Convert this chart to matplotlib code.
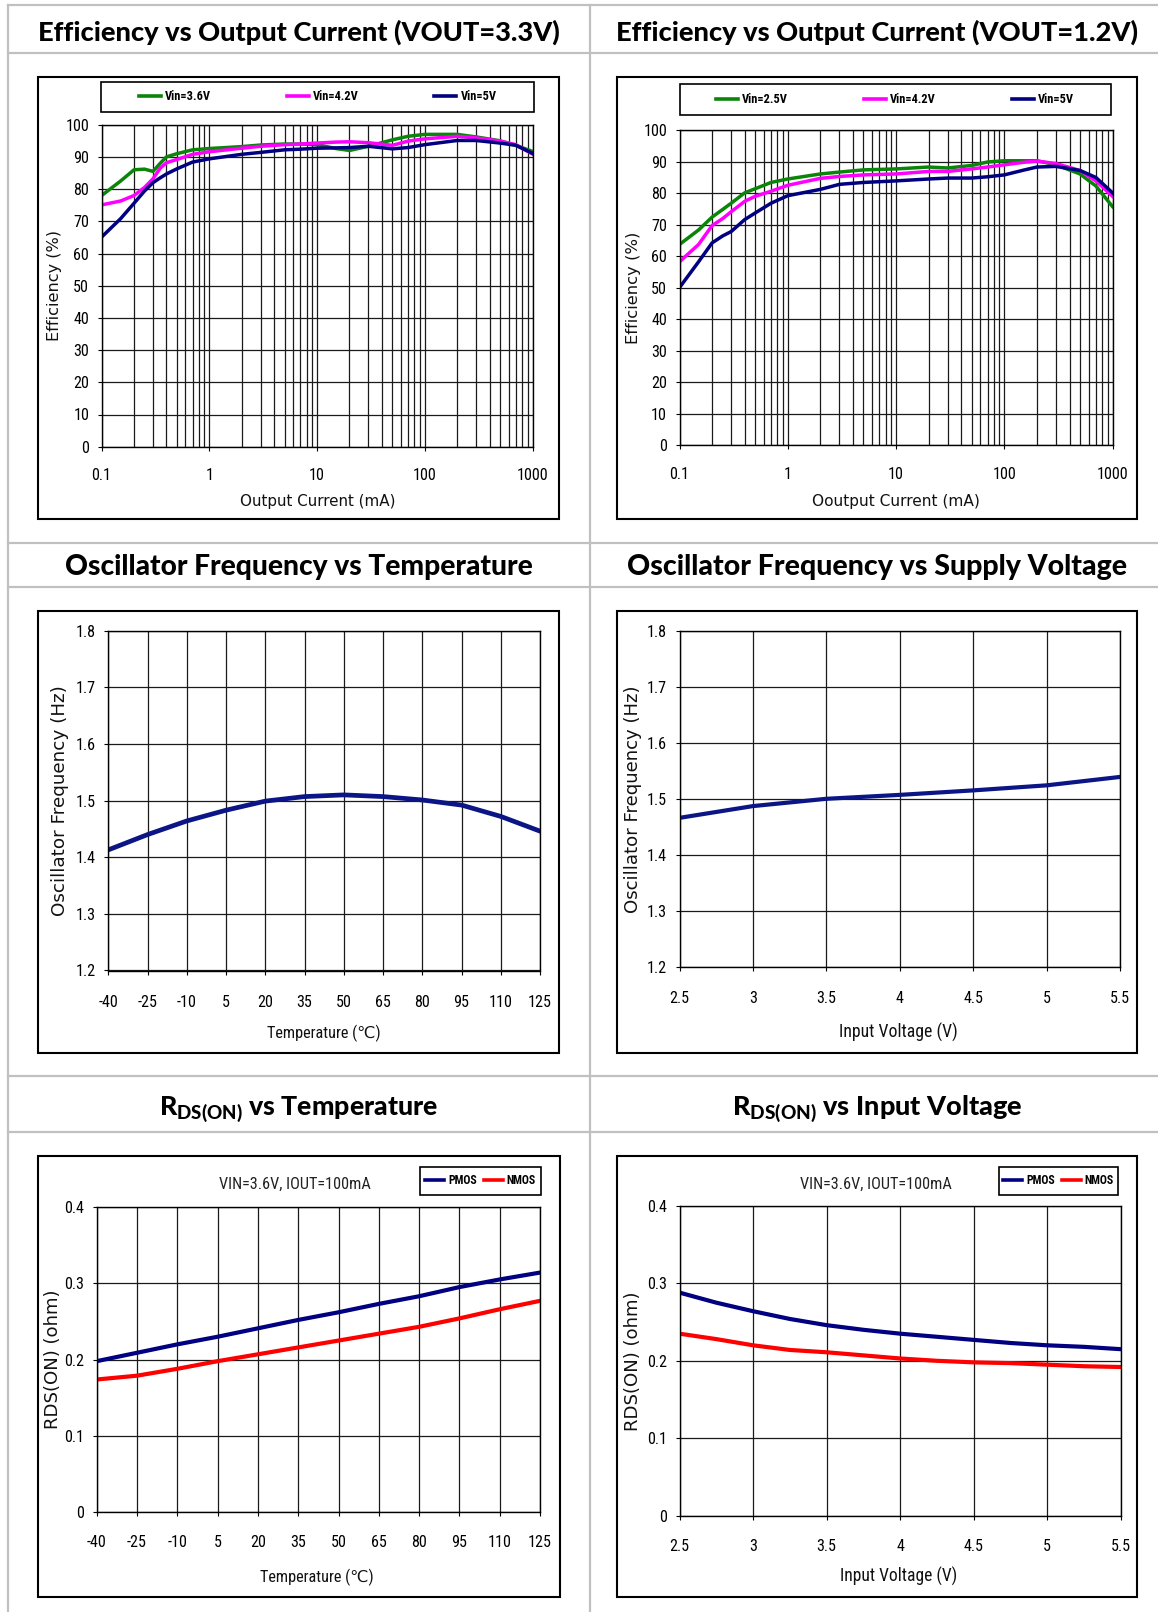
import matplotlib
matplotlib.use('Agg')
import matplotlib.pyplot as plt
from matplotlib import font_manager
from matplotlib.font_manager import FontProperties
from matplotlib.lines import Line2D
from matplotlib.patches import Rectangle
from matplotlib.ticker import LogLocator, NullFormatter

W, H = 1158, 1612
_fl = font_manager.fontManager.ttflist
_names = {f.name for f in _fl}


def _is_cond(f):
    st = f.stretch
    if isinstance(st, str):
        return 'condensed' in st or 'narrow' in st
    return st < 500


NARROW_FAMILY, NARROW_STRETCH = None, 'normal'
for nm in ['Liberation Sans Narrow', 'Roboto Condensed', 'DejaVu Sans Condensed', 'Open Sans Condensed',
           'Noto Sans Condensed', 'Arial Narrow']:
    if nm in _names:
        NARROW_FAMILY = nm
        break
if NARROW_FAMILY is None:
    for pref in ['DejaVu Sans', 'Noto Sans', 'Open Sans', 'Roboto', 'Liberation Sans']:
        if any(f.name == pref and _is_cond(f) for f in _fl):
            NARROW_FAMILY, NARROW_STRETCH = pref, 'condensed'
            break
if NARROW_FAMILY is None:
    NARROW_FAMILY, NARROW_STRETCH = ('Roboto' if 'Roboto' in _names else 'DejaVu Sans'), 'normal'


def nfp(size, weight='normal'):
    return FontProperties(family=[NARROW_FAMILY, 'DejaVu Sans'], stretch=NARROW_STRETCH, weight=weight, size=size)


TFONT = 'Lato' if 'Lato' in _names else 'DejaVu Sans'
LFONT = 'DejaVu Sans'
plt.rcParams['mathtext.fontset'] = 'custom'
plt.rcParams['mathtext.bf'] = TFONT + ':black'
plt.rcParams['mathtext.rm'] = TFONT

# ---------------- data ----------------
# Efficiency, VOUT = 3.3V
eff33_current = [0.1, 0.15, 0.2, 0.25, 0.3, 0.35, 0.4, 0.5, 0.7, 1, 2, 3, 5, 7, 10, 15, 20, 30, 50, 70,
                 100, 200, 300, 500, 700, 1000]
eff33_vin36 = [78.0, 82.5, 86.0, 86.2, 85.5, 88.0, 90.0, 91.0, 92.2, 92.6, 93.2, 93.7, 94.0, 94.0, 93.8, 92.6,
               92.0, 93.3, 95.3, 96.4, 97.0, 97.0, 96.2, 95.0, 93.6, 91.7]
eff33_vin42 = [75.1, 76.3, 78.0, 80.5, 83.2, 86.5, 88.2, 89.2, 90.8, 91.6, 92.7, 93.3, 93.8, 94.0, 94.3, 94.6,
               94.7, 94.4, 93.6, 94.9, 95.6, 96.4, 95.9, 94.9, 93.8, 90.9]
eff33_vin5 = [65.1, 70.8, 75.6, 79.4, 82.0, 83.5, 84.7, 86.3, 88.4, 89.4, 90.8, 91.4, 92.2, 92.4, 92.7, 92.8,
              92.9, 93.3, 92.5, 92.9, 93.8, 95.1, 95.1, 94.3, 93.6, 91.1]
eff33_labels = ['Vin=3.6V', 'Vin=4.2V', 'Vin=5V']

# Efficiency, VOUT = 1.2V
eff12_current = [0.1, 0.15, 0.2, 0.25, 0.3, 0.4, 0.5, 0.7, 1, 2, 3, 5, 10, 20, 30, 50, 70, 100, 150, 200,
                 300, 500, 700, 1000]
eff12_vin25 = [63.7, 68.3, 72.4, 74.8, 76.8, 80.1, 81.4, 83.4, 84.5, 86.1, 86.7, 87.4, 87.7, 88.3, 88.0, 88.8,
               89.9, 90.3, 90.3, 90.3, 89.0, 86.1, 82.3, 75.7]
eff12_vin42 = [58.2, 63.7, 69.7, 71.9, 74.1, 77.4, 79.0, 80.6, 82.5, 84.7, 85.3, 85.8, 86.1, 86.9, 86.9, 87.7,
               88.3, 89.0, 89.8, 90.2, 89.4, 87.2, 83.9, 79.0]
eff12_vin5 = [50.0, 58.2, 64.2, 66.4, 67.8, 71.6, 73.7, 76.8, 79.2, 81.2, 82.8, 83.4, 83.9, 84.5, 84.8, 84.8,
              85.2, 85.8, 87.3, 88.3, 88.5, 87.2, 85.0, 80.1]
eff12_labels = ['Vin=2.5V', 'Vin=4.2V', 'Vin=5V']

eff_yticks = [0, 10, 20, 30, 40, 50, 60, 70, 80, 90, 100]
eff_xticks = [0.1, 1, 10, 100, 1000]
eff_xticklabels = ['0.1', '1', '10', '100', '1000']

# Oscillator frequency
temp = [-40, -25, -10, 5, 20, 35, 50, 65, 80, 95, 110, 125]
osc_vs_temp = [1.413, 1.440, 1.464, 1.483, 1.499, 1.507, 1.510, 1.507, 1.501, 1.492, 1.472, 1.446]
vin = [2.5, 3.0, 3.5, 4.0, 4.5, 5.0, 5.5]
osc_vs_vin = [1.466, 1.487, 1.500, 1.507, 1.515, 1.524, 1.539]
osc_yticks = [1.2, 1.3, 1.4, 1.5, 1.6, 1.7, 1.8]
osc_yticklabels = ['1.2', '1.3', '1.4', '1.5', '1.6', '1.7', '1.8']
vin_ticklabels = ['2.5', '3', '3.5', '4', '4.5', '5', '5.5']

# RDS(ON)
rds_pmos_temp = [0.198, 0.209, 0.220, 0.230, 0.241, 0.252, 0.262, 0.273, 0.283, 0.295, 0.305, 0.314]
rds_nmos_temp = [0.174, 0.179, 0.188, 0.198, 0.207, 0.216, 0.225, 0.234, 0.243, 0.254, 0.266, 0.277]
vin_rds = [2.5, 2.75, 3.0, 3.25, 3.5, 3.75, 4.0, 4.25, 4.5, 4.75, 5.0, 5.25, 5.5]
rds_pmos_vin = [0.288, 0.275, 0.264, 0.254, 0.246, 0.240, 0.235, 0.231, 0.227, 0.223, 0.220, 0.218, 0.215]
rds_nmos_vin = [0.235, 0.228, 0.220, 0.214, 0.211, 0.207, 0.203, 0.200, 0.198, 0.197, 0.195, 0.193, 0.192]
rds_yticks = [0, 0.1, 0.2, 0.3, 0.4]
rds_yticklabels = ['0', '0.1', '0.2', '0.3', '0.4']
rds_labels = ['PMOS', 'NMOS']

titles = ['Efficiency vs Output Current (VOUT=3.3V)',
          'Efficiency vs Output Current (VOUT=1.2V)',
          'Oscillator Frequency vs Temperature',
          'Oscillator Frequency vs Supply Voltage',
          r'$\mathbf{R_{DS(ON)}}$ vs Temperature',
          r'$\mathbf{R_{DS(ON)}}$ vs Input Voltage']
condition_text = 'VIN=3.6V, IOUT=100mA'

GREEN, MAGENTA, NAVY, RED = '#0a850a', '#ff00ff', '#000080', '#ff0000'

# ---------------- figure ----------------
fig = plt.figure(figsize=(W / 100, H / 100), dpi=100)
fig.patch.set_facecolor('white')
R = fig.canvas.get_renderer()


def size_for(s, weight, target_px):
    t = fig.text(0, 0, s, fontproperties=nfp(10, weight))
    w = t.get_window_extent(renderer=R).width
    t.remove()
    return 10 * target_px / w


TICK_FS = size_for('100', 'normal', 23.5)
LEG1_FS = size_for('Vin=3.6V', 'bold', 46)
LEG2_FS = size_for('PMOS', 'bold', 29)


def fx(x):
    return x / W


def fy(y):
    return 1 - y / H


def add_ax(x0, y0, x1, y1):
    return fig.add_axes([x0 / W, 1 - y1 / H, (x1 - x0) / W, (y1 - y0) / H])


GRAY = '#c0c0c0'
for yy in [4.5, 52.7, 542.5, 586.5, 1076, 1131.5]:
    fig.add_artist(Line2D([fx(8), fx(W)], [fy(yy), fy(yy)], transform=fig.transFigure, color=GRAY, lw=1.6))
for xx in [8, 589.5]:
    fig.add_artist(Line2D([fx(xx), fx(xx)], [fy(4.5), fy(H)], transform=fig.transFigure, color=GRAY, lw=1.6))

boxes = [(38.4, 76.5, 558.8, 519), (616.9, 76.5, 1136.6, 519),
         (38.4, 610.6, 558.8, 1053), (616.9, 610.6, 1136.6, 1053),
         (38.4, 1155.5, 559.6, 1597), (616.9, 1155.5, 1136.6, 1597)]
for (x0, y0, x1, y1) in boxes:
    fig.add_artist(Rectangle((fx(x0), fy(y1)), (x1 - x0) / W, (y1 - y0) / H, transform=fig.transFigure,
                             fill=False, ec='black', lw=1.5))

fit_list = []  # (text, target_px, vertical)

title_pos = [(298.7, 40.6), (876.8, 40.6), (298.6, 575.5), (876.8, 575.5), (298.6, 1114.4), (876.8, 1114.4)]
title_w = [524, 522.6, 468, 501, 280, 291]
for t, (cx, by), tw in zip(titles, title_pos, title_w):
    tt = fig.text(fx(cx), fy(by), t, ha='center', va='baseline', fontfamily=TFONT, fontweight='black',
                  fontsize=18, color='black')
    fit_list.append((tt, tw, False))


def style(ax, xpad):
    for s in ax.spines.values():
        s.set_color('black')
        s.set_linewidth(1.0)
    ax.tick_params(axis='both', which='major', length=3, width=0.8, direction='out', color='black')
    ax.tick_params(axis='x', which='major', pad=xpad)
    ax.tick_params(axis='y', which='major', pad=6)
    ax.tick_params(axis='x', which='minor', length=0)
    ax.set_axisbelow(True)


def labels(ax, xl, xpos, xw, xnarrow, yl, ypos, yw):
    if xnarrow:
        lx = ax.set_xlabel(xl, fontproperties=nfp(13), color='#111111')
    else:
        lx = ax.set_xlabel(xl, fontfamily=LFONT, fontsize=11, color='#111111')
    ax.xaxis.set_label_coords(fx(xpos[0]), fy(xpos[1]), transform=fig.transFigure)
    lx.set_va('center')
    ly = ax.set_ylabel(yl, fontfamily=LFONT, fontsize=12, color='#111111')
    ax.yaxis.set_label_coords(fx(ypos[0]), fy(ypos[1]), transform=fig.transFigure)
    ly.set_va('center')
    ly.set_ha('center')
    fit_list.append((lx, xw, False))
    fit_list.append((ly, yw, True))


def frame_legend(ax, handles, lab, frame, fs, hl_px, htp_px, cs_px):
    x0, y0, x1, y1 = frame
    fig.add_artist(Rectangle((fx(x0), fy(y1)), (x1 - x0) / W, (y1 - y0) / H, transform=fig.transFigure,
                             fill=False, ec='black', lw=1.2))
    fpx = fs * 100 / 72.0
    leg = ax.legend(handles, lab, loc='center', bbox_to_anchor=(fx((x0 + x1) / 2), fy((y0 + y1) / 2)),
                    bbox_transform=fig.transFigure, frameon=False, ncol=len(lab),
                    prop=nfp(fs, 'bold'),
                    handlelength=hl_px / fpx, handletextpad=htp_px / fpx, columnspacing=cs_px / fpx,
                    borderpad=0, borderaxespad=0)
    for h in leg.get_lines():
        h.set_linewidth(2.6)
    return leg


def eff_axis(ax, xpad):
    ax.set_xscale('log')
    ax.set_xlim(0.1, 1000)
    ax.set_ylim(0, 100)
    ax.set_xticks(eff_xticks)
    ax.set_xticklabels(eff_xticklabels, fontproperties=nfp(TICK_FS))
    ax.xaxis.set_minor_locator(LogLocator(base=10, subs=list(range(2, 10))))
    ax.xaxis.set_minor_formatter(NullFormatter())
    ax.set_yticks(eff_yticks)
    ax.set_yticklabels([str(v) for v in eff_yticks], fontproperties=nfp(TICK_FS))
    ax.grid(True, which='major', color='#1a1a1a', lw=0.9)
    ax.grid(True, axis='x', which='minor', color='#1a1a1a', lw=0.9)
    style(ax, xpad)


# ---- Plot 1 ----
ax1 = add_ax(101.6, 124.7, 532.5, 446.7)
l1, = ax1.plot(eff33_current, eff33_vin36, color=GREEN, lw=2.5)
l2, = ax1.plot(eff33_current, eff33_vin42, color=MAGENTA, lw=2.5)
l3, = ax1.plot(eff33_current, eff33_vin5, color=NAVY, lw=2.5)
eff_axis(ax1, 12)
labels(ax1, 'Output Current (mA)', (317.6, 501.5), 156, False, 'Efficiency (%)', (54.6, 285.7), 110)
frame_legend(ax1, [l1, l2, l3], eff33_labels, (100.8, 81.6, 534.3, 111.9), LEG1_FS, 22, 4, 76)

# ---- Plot 2 ----
ax2 = add_ax(679.5, 130.2, 1112.6, 445)
m1, = ax2.plot(eff12_current, eff12_vin25, color=GREEN, lw=2.5)
m2, = ax2.plot(eff12_current, eff12_vin42, color=MAGENTA, lw=2.5)
m3, = ax2.plot(eff12_current, eff12_vin5, color=NAVY, lw=2.5)
eff_axis(ax2, 12.5)
labels(ax2, 'Ooutput Current (mA)', (896, 501.6), 167.7, False, 'Efficiency (%)', (633.4, 287.6), 112)
frame_legend(ax2, [m1, m2, m3], eff12_labels, (679.5, 83.7, 1110.8, 115.4), LEG1_FS, 22, 4, 76)


def grid_axis(ax, xlim, xticks, xticklabels, ylim, yticks, yticklabels, xpad):
    ax.set_xlim(*xlim)
    ax.set_ylim(*ylim)
    ax.set_xticks(xticks)
    ax.set_xticklabels(xticklabels, fontproperties=nfp(TICK_FS))
    ax.set_yticks(yticks)
    ax.set_yticklabels(yticklabels, fontproperties=nfp(TICK_FS))
    ax.grid(True, which='major', color='#1a1a1a', lw=0.9)
    style(ax, xpad)


# ---- Plot 3 ----
ax3 = add_ax(108.4, 630.6, 540, 970.5)
ax3.plot(temp, osc_vs_temp, color='#0b1585', lw=3.4)
grid_axis(ax3, (-40, 125), temp, [str(t) for t in temp], (1.2, 1.8), osc_yticks, osc_yticklabels, 14.5)
labels(ax3, 'Temperature (℃)', (323.6, 1033), 114, True,
       'Oscillator Frequency (Hz)', (60.2, 800.5), 231)

# ---- Plot 4 ----
ax4 = add_ax(679.5, 630.6, 1120, 967)
ax4.plot(vin, osc_vs_vin, color='#0b1585', lw=3.0)
grid_axis(ax4, (2.5, 5.5), vin, vin_ticklabels, (1.2, 1.8), osc_yticks, osc_yticklabels, 14.5)
labels(ax4, 'Input Voltage (V)', (898.8, 1032.5), 118, True,
       'Oscillator Frequency (Hz)', (633.4, 798.8), 227)

# ---- Plot 5 ----
ax5 = add_ax(96.7, 1206.9, 540, 1512.4)
p1, = ax5.plot(temp, rds_pmos_temp, color=NAVY, lw=3.0)
p2, = ax5.plot(temp, rds_nmos_temp, color=RED, lw=3.0)
grid_axis(ax5, (-40, 125), temp, [str(t) for t in temp], (0, 0.4), rds_yticks, rds_yticklabels, 13.5)
labels(ax5, 'Temperature (℃)', (317.2, 1577.4), 114, True,
       'RDS(ON) (ohm)', (52.7, 1359.6), 140)
frame_legend(ax5, [p1, p2], rds_labels, (420.3, 1166.8, 540.7, 1194.9), LEG2_FS, 19, 4, 6.5)
t5 = fig.text(fx(295.4), fy(1183.9), condition_text, ha='center', va='center', fontproperties=nfp(12),
              color='#222222')
fit_list.append((t5, 152, False))

# ---- Plot 6 ----
ax6 = add_ax(679.5, 1205.8, 1120.7, 1515.8)
q1, = ax6.plot(vin_rds, rds_pmos_vin, color=NAVY, lw=3.0)
q2, = ax6.plot(vin_rds, rds_nmos_vin, color=RED, lw=3.0)
grid_axis(ax6, (2.5, 5.5), vin, vin_ticklabels, (0, 0.4), rds_yticks, rds_yticklabels, 14)
labels(ax6, 'Input Voltage (V)', (898.8, 1576.8), 117, True,
       'RDS(ON) (ohm)', (633.4, 1360.8), 140)
frame_legend(ax6, [q1, q2], rds_labels, (999, 1166.8, 1118.2, 1194.9), LEG2_FS, 19, 4, 6.5)
t6 = fig.text(fx(876.4), fy(1183.9), condition_text, ha='center', va='center', fontproperties=nfp(12),
              color='#222222')
fit_list.append((t6, 152, False))

# fit text sizes to measured extents
fig.canvas.draw()
r = fig.canvas.get_renderer()
for t, target, vert in fit_list:
    bb = t.get_window_extent(renderer=r)
    cur = bb.height if vert else bb.width
    if cur > 0:
        t.set_fontsize(t.get_fontsize() * target / cur)

fig.savefig('out.png', dpi=100, facecolor='white')
